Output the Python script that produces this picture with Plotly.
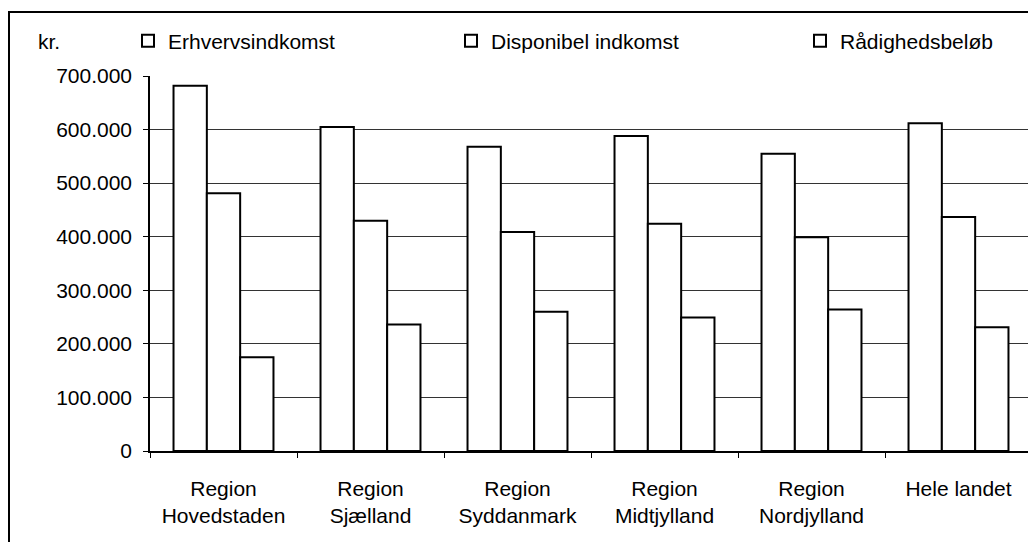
import plotly.graph_objects as go

categories = ["Region<br>Hovedstaden", "Region<br>Sjælland", "Region<br>Syddanmark",
              "Region<br>Midtjylland", "Region<br>Nordjylland", "Hele landet"]
series_names = ["Erhvervsindkomst", "Disponibel indkomst", "Rådighedsbeløb"]
erhvervsindkomst = [682000, 605000, 568000, 588000, 555000, 612000]
disponibel_indkomst = [481000, 430000, 409000, 424000, 399000, 437000]
raadighedsbeloeb = [175000, 236000, 260000, 249000, 264000, 231000]
y_tick_values = [0, 100000, 200000, 300000, 400000, 500000, 600000, 700000]

FONT = "Liberation Sans, Arial, sans-serif"
FS = 21
OFF = 8  # page body margin
W, H = 1036 - OFF, 542 - OFF
# plot area in page pixels: x 150..1032, y 76..451
L = 150 - OFF
T = 76 - OFF
R = W - (1032 - OFF)
B = H - (451 - OFF)
pw, ph = W - L - R, H - T - B

def px_x(x):
    return (x - OFF - L) / pw

def px_y(y):
    return (H - B - (y - OFF)) / ph

def cx(x):
    return (x - OFF) / W

def cy(y):
    return 1 - (y - OFF) / H

fig = go.Figure()
legend_ids = ["legend", "legend2", "legend3"]
for name, vals, lg in zip(series_names,
                          [erhvervsindkomst, disponibel_indkomst, raadighedsbeloeb],
                          legend_ids):
    fig.add_trace(go.Bar(
        x=categories, y=vals, name=name, legend=lg, showlegend=True,
        marker=dict(color="white", line=dict(color="black", width=2)),
    ))

legend_common = dict(orientation="h", xanchor="left", yanchor="middle",
                     xref="container", yref="container",
                     font=dict(family=FONT, size=FS, color="black"),
                     bgcolor="rgba(0,0,0,0)", itemwidth=30, borderwidth=0)
fig.update_layout(
    showlegend=True,
    legend=dict(x=cx(128), y=cy(41), **legend_common),
    legend2=dict(x=cx(451), y=cy(41), **legend_common),
    legend3=dict(x=cx(800), y=cy(41), **legend_common),
)

fig.update_layout(
    width=W, height=H,
    margin=dict(l=L, r=R, t=T, b=B, autoexpand=False),
    paper_bgcolor="white", plot_bgcolor="white",
    separators=",.",
    barmode="group", bargap=0.32, bargroupgap=0,
    font=dict(family=FONT, size=FS, color="black"),
    xaxis=dict(
        type="category", tickson="boundaries", ticks="outside", ticklen=5,
        tickcolor="black", showline=True, linecolor="black", linewidth=1.5,
        showgrid=False, ticklabelstandoff=18,
        tickfont=dict(family=FONT, size=FS, color="black"),
    ),
    yaxis=dict(
        range=[0, 700000], tickvals=y_tick_values, tickformat=",d",
        ticks="outside", ticklen=5, tickcolor="black",
        showline=True, linecolor="black", linewidth=1.5, mirror=True,
        showgrid=True, gridcolor="#333333", gridwidth=1, zeroline=False,
        ticklabelstandoff=7,
        tickfont=dict(family=FONT, size=FS, color="black"),
    ),
    shapes=[dict(type="rect", xref="paper", yref="paper",
                 x0=px_x(9), x1=px_x(1050), y0=px_y(12), y1=px_y(560),
                 line=dict(color="black", width=2), fillcolor="rgba(0,0,0,0)",
                 layer="below")],
    annotations=[dict(text="kr.", xref="paper", yref="paper",
                      x=px_x(36), y=px_y(41), xanchor="left", yanchor="middle",
                      showarrow=False, font=dict(family=FONT, size=FS, color="black"))],
)

fig.write_html("out.html")
